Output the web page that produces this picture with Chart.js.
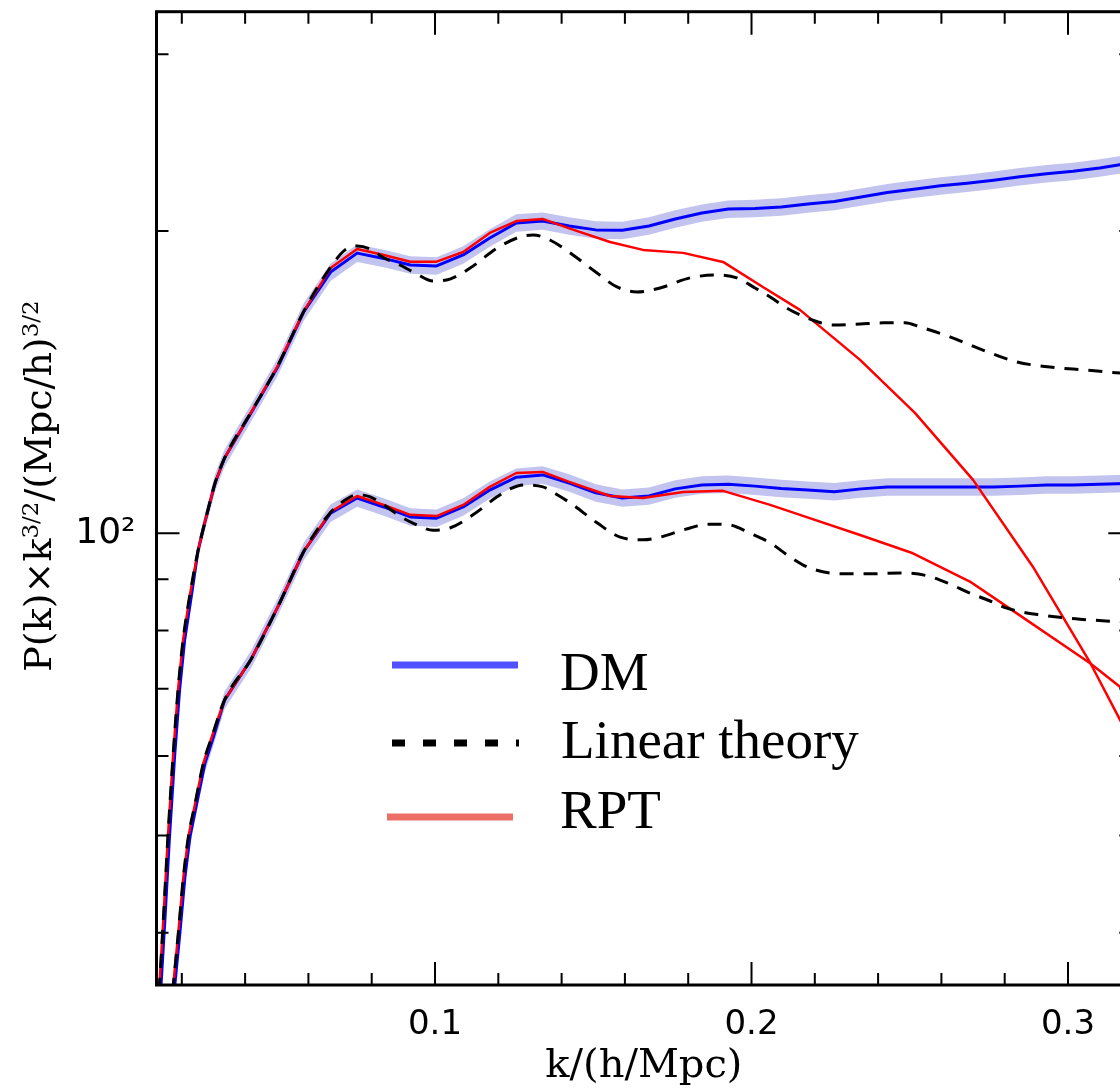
<!DOCTYPE html>
<html><head><meta charset="utf-8">
<script src="https://cdn.jsdelivr.net/npm/chart.js@4"></script>
<style>
html,body{margin:0;padding:0;overflow:hidden;background:#fff;width:1120px;height:1091px}
canvas{display:block}
</style></head>
<body><canvas id="c" width="1140" height="1091"></canvas>
<script>
// ---- data (k in h/Mpc, P(k)*k^1.5) ----
const seriesNames = ['DM', 'Linear theory', 'RPT'];

const kDMHigh = [0.0124,0.0146,0.0161,0.0177,0.0193,0.0209,0.0231,0.0251,0.0273,0.0305,0.0335,
  0.0419,0.0503,0.0586,0.0670,0.0754,0.0838,0.0922,0.1005,0.1089,0.1173,0.1257,0.1340,0.1424,0.1508,0.1592,0.1676,0.1759,0.1843,0.1927,0.2011,0.2094,0.2178,0.2262,0.2346,0.2429,0.2513,0.2597,0.2681,0.2765,0.2848,0.2932,0.3016,0.3100,0.3183];
const pDMHigh = [31.3,40.9,49.8,59.8,69.8,78.3,87.0,96.0,102.6,112.2,118.8,
  131.8,146.4,166.3,182.0,190.1,187.8,185.0,184.6,189.3,196.8,203.7,204.6,202.3,200.5,200.3,202.3,205.6,208.4,210.3,210.6,211.3,212.8,214.0,216.2,218.4,220.1,221.8,223.1,224.7,226.5,228.1,229.3,231.1,233.3];

const kDMLow = [0.0161,0.0194,0.0210,0.0226,0.0247,0.0273,0.0300,0.0335,
  0.0419,0.0503,0.0586,0.0670,0.0754,0.0838,0.0922,0.1005,0.1089,0.1173,0.1257,0.1340,0.1424,0.1508,0.1592,0.1676,0.1759,0.1843,0.1927,0.2011,0.2094,0.2178,0.2262,0.2346,0.2429,0.2513,0.2597,0.2681,0.2765,0.2848,0.2932,0.3016,0.3100,0.3183];
const pDMLow = [31.3,40.0,45.5,49.9,53.8,59.0,62.7,68.2,
  74.9,84.4,96.0,104.7,108.4,106.2,103.8,103.5,106.2,110.4,113.7,114.3,112.2,109.7,108.4,108.9,110.7,111.7,111.9,111.4,110.8,110.4,110.0,110.7,111.2,111.2,111.2,111.2,111.2,111.4,111.7,111.7,111.9,112.1];
// relative 1-sigma error of the DM measurement (band half-height)
const dmRelError = 0.02;

const kLinHigh = [0.0119,0.0141,0.0156,0.0172,0.0188,0.0204,0.0226,0.0251,0.0273,0.0305,0.0335,0.0419,0.0503,0.0586,0.0668,0.0716,0.0754,0.0795,0.0839,0.0889,0.0937,0.0994,0.1047,0.1111,0.1196,0.1269,0.1310,0.1363,0.1436,0.1512,0.1575,0.1638,0.1711,0.1806,0.1891,0.1954,0.2011,0.2059,0.2106,0.2153,0.2201,0.2258,0.2343,0.2416,0.2485,0.2532,0.2627,0.2731,0.2839,0.2943,0.3054,0.3164,0.3212];
const pLinHigh = [31.3,40.9,49.8,59.8,69.8,78.3,87.0,96.0,102.6,112.2,118.8,132.0,146.8,166.5,183.7,191.5,193.2,191.9,188.0,185.0,181.6,178.3,179.1,183.7,192.3,197.3,198.2,195.9,189.3,181.6,175.9,173.9,175.5,179.6,180.8,179.6,175.5,171.9,168.0,165.0,162.7,161.2,161.6,162.0,162.0,160.5,156.9,152.2,148.1,146.4,145.4,144.4,144.1];

const kLinLow = [0.0156,0.0189,0.0205,0.0221,0.0242,0.0268,0.0295,0.0335,0.0419,0.0503,0.0586,0.0668,0.0716,0.0754,0.0795,0.0839,0.0889,0.0937,0.0994,0.1047,0.1120,0.1196,0.1237,0.1278,0.1341,0.1382,0.1427,0.1512,0.1585,0.1657,0.1711,0.1765,0.1806,0.1859,0.1932,0.1995,0.2059,0.2122,0.2185,0.2289,0.2374,0.2469,0.2555,0.2627,0.2681,0.2754,0.2807,0.2912,0.3038,0.3164,0.3212];
const pLinLow = [31.3,40.0,45.5,49.9,53.8,59.0,62.7,68.2,74.9,84.4,96.0,104.7,107.9,109.2,108.7,106.7,104.0,102.1,100.7,101.2,104.3,108.7,110.7,111.7,111.2,109.4,107.2,102.4,99.1,98.5,99.1,100.3,101.2,102.1,101.9,100.0,97.8,94.7,92.3,91.1,91.1,91.3,90.7,89.0,87.4,85.6,84.2,82.9,82.1,81.6,81.4];

const kRPTHigh = [0.0119,0.0141,0.0156,0.0172,0.0188,0.0204,0.0226,0.0251,0.0273,0.0305,0.0335,0.0419,0.0503,0.0586,0.0670,0.0754,0.0838,0.0922,0.1005,0.1089,0.1173,0.1257,0.1340,0.1424,0.1553,0.1657,0.1784,0.1910,0.2036,0.2153,0.2343,0.2517,0.2700,0.2889,0.3070,0.3164,0.3196];
const pRPTHigh = [31.3,40.9,49.8,59.8,69.8,78.3,87.0,96.0,102.6,112.2,118.8,132.0,146.8,166.5,183.7,191.9,189.3,186.4,186.4,190.6,199.1,204.6,205.6,201.2,195.0,191.5,190.2,186.3,175.9,166.9,148.8,131.7,113.0,92.6,74.3,65.2,62.4];

const kRPTLow = [0.0156,0.0189,0.0205,0.0221,0.0242,0.0268,0.0295,0.0335,0.0419,0.0503,0.0586,0.0670,0.0754,0.0838,0.0922,0.1005,0.1089,0.1173,0.1257,0.1340,0.1424,0.1553,0.1657,0.1784,0.1910,0.2059,0.2153,0.2343,0.2510,0.2690,0.2807,0.3070,0.3164,0.3196];
const pRPTLow = [31.3,40.0,45.5,49.9,53.8,59.0,62.7,68.2,74.9,84.4,96.0,105.0,108.9,106.7,104.3,104.0,106.7,111.2,114.8,115.1,112.5,108.9,108.4,109.9,110.2,106.7,104.3,99.6,95.5,89.5,84.5,74.2,70.3,69.0];

// ---- axes ----
const xRange = [0.012, 0.32];
const yRange = [35.48, 330.7];
const xMajorTicks = [0.1, 0.2, 0.3];
const xMajorLabels = ['0.1', '0.2', '0.3'];
const xMinorTicks = [0.02,0.04,0.06,0.08,0.12,0.14,0.16,0.18,0.22,0.24,0.26,0.28,0.32];
const yMajorTicks = [100];
const yMajorLabels = ['10\u00B2'];
const yMinorTicks = [40,50,60,70,80,90,200,300];
const xTitle = 'k/(h/Mpc)';
const yTitleParts = [['P(k)\u00D7k', false], ['3/2', true], ['/(Mpc/h)', false], ['3/2', true]];

// ---- styles ----
const bandColor = '#c3c3ef';
const dmColor = '#0000ff';
const rptColor = '#ff0000';
const linColor = '#000000';
const legendDM = '#5050ff';
const legendRPT = '#ec6f66';

const pts = (ks, ps, f) => ks.map((k, i) => ({x: k, y: ps[i] * (f || 1)}));
const base = {pointRadius: 0, fill: false, clip: 0, tension: 0, borderCapStyle: 'butt', borderJoinStyle: 'round'};
const bandHi = 1 + dmRelError, bandLo = 1 - dmRelError;

const datasets = [
  {...base, label: 'DM band hi+', data: pts(kDMHigh, pDMHigh, bandHi), borderWidth: 0, backgroundColor: bandColor, fill: '+1', order: 5},
  {...base, label: 'DM band hi-', data: pts(kDMHigh, pDMHigh, bandLo), borderWidth: 0, order: 5},
  {...base, label: 'DM band lo+', data: pts(kDMLow, pDMLow, bandHi), borderWidth: 0, backgroundColor: bandColor, fill: '+1', order: 5},
  {...base, label: 'DM band lo-', data: pts(kDMLow, pDMLow, bandLo), borderWidth: 0, order: 5},
  {...base, label: seriesNames[0], data: pts(kDMHigh, pDMHigh), borderColor: dmColor, borderWidth: 3, order: 3},
  {...base, label: seriesNames[0] + ' low', data: pts(kDMLow, pDMLow), borderColor: dmColor, borderWidth: 3, order: 3},
  {...base, label: seriesNames[2], data: pts(kRPTHigh, pRPTHigh), borderColor: rptColor, borderWidth: 2.5, order: 2},
  {...base, label: seriesNames[2] + ' low', data: pts(kRPTLow, pRPTLow), borderColor: rptColor, borderWidth: 2.5, order: 2},
  {...base, label: seriesNames[1], data: pts(kLinHigh, pLinHigh), borderColor: linColor, borderWidth: 3, borderDash: [14, 10], cubicInterpolationMode: 'monotone', order: 1},
  {...base, label: seriesNames[1] + ' low', data: pts(kLinLow, pLinLow), borderColor: linColor, borderWidth: 3, borderDash: [14, 10], cubicInterpolationMode: 'monotone', order: 1}
];

const framePlugin = {
  id: 'frame',
  afterDatasetsDraw(chart) {
    const {ctx, chartArea: a, scales: {x, y}} = chart;
    ctx.save();
    ctx.strokeStyle = '#000';
    ctx.lineWidth = 2;
    ctx.beginPath();
    const xt = (v, len) => { const p = x.getPixelForValue(v); ctx.moveTo(p, a.bottom); ctx.lineTo(p, a.bottom - len); ctx.moveTo(p, a.top); ctx.lineTo(p, a.top + len); };
    const yt = (v, len) => { const p = y.getPixelForValue(v); ctx.moveTo(a.left, p); ctx.lineTo(a.left + len, p); ctx.moveTo(a.right, p); ctx.lineTo(a.right - len, p); };
    xMajorTicks.forEach(v => xt(v, 23));
    xMinorTicks.forEach(v => xt(v, 12));
    yMajorTicks.forEach(v => yt(v, 23));
    yMinorTicks.forEach(v => yt(v, 12));
    ctx.stroke();
    ctx.lineWidth = 3;
    ctx.strokeRect(a.left, a.top, a.right - a.left, a.bottom - a.top);
    ctx.restore();
  },
  afterDraw(chart) {
    const {ctx, chartArea: a} = chart;
    ctx.save();
    // legend
    ctx.lineCap = 'butt';
    ctx.lineWidth = 7;
    ctx.strokeStyle = legendDM;
    ctx.beginPath(); ctx.moveTo(392, 665); ctx.lineTo(518, 665); ctx.stroke();
    ctx.strokeStyle = '#000';
    ctx.setLineDash([13, 18]);
    ctx.beginPath(); ctx.moveTo(392, 743); ctx.lineTo(519, 743); ctx.stroke();
    ctx.setLineDash([]);
    ctx.strokeStyle = legendRPT;
    ctx.beginPath(); ctx.moveTo(387, 817); ctx.lineTo(513, 817); ctx.stroke();
    ctx.fillStyle = '#000';
    ctx.font = '55px "Liberation Serif"';
    ctx.textAlign = 'left';
    ctx.textBaseline = 'alphabetic';
    ctx.fillText(seriesNames[0], 560, 690);
    ctx.fillText(seriesNames[1], 561, 758);
    ctx.fillText(seriesNames[2], 560, 828);
    // x title
    ctx.font = '40px "DejaVu Serif"';
    ctx.textAlign = 'center';
    ctx.textBaseline = 'middle';
    ctx.fillText(xTitle, (a.left + a.right) / 2, 1067);
    // y title (rotated, with superscripts)
    const mainF = '38px "DejaVu Serif"', supF = '23px "DejaVu Serif"';
    let total = 0;
    const widths = yTitleParts.map(([t, sup]) => { ctx.font = sup ? supF : mainF; const w = ctx.measureText(t).width; total += w; return w; });
    ctx.translate(41, 486);
    ctx.rotate(-Math.PI / 2);
    ctx.textAlign = 'left';
    ctx.textBaseline = 'middle';
    let cx = -total / 2;
    yTitleParts.forEach(([t, sup], i) => {
      ctx.font = sup ? supF : mainF;
      ctx.fillText(t, cx, sup ? -9 : 0);
      cx += widths[i];
    });
    ctx.restore();
  }
};

const noPad = s => { s.paddingTop = 0; s.paddingBottom = 0; s.paddingLeft = 0; s.paddingRight = 0; };

new Chart(document.getElementById('c'), {
  type: 'line',
  data: {datasets},
  plugins: [framePlugin],
  options: {
    responsive: false,
    animation: false,
    devicePixelRatio: 1,
    layout: {padding: {top: 11.7, right: 8.7, left: 0, bottom: 0}},
    plugins: {legend: {display: false}, tooltip: {enabled: false}, filler: {propagate: false}},
    events: [],
    scales: {
      x: {
        type: 'linear', min: xRange[0], max: xRange[1],
        grid: {display: false}, border: {display: false},
        afterBuildTicks: s => { s.ticks = xMajorTicks.map(v => ({value: v})); },
        afterFit: s => { s.height = 106; noPad(s); },
        ticks: {
          autoSkip: false, maxRotation: 0, padding: 12, color: '#000',
          font: {family: 'DejaVu Sans', size: 34},
          callback: v => { const i = xMajorTicks.findIndex(t => Math.abs(t - v) < 1e-9); return i >= 0 ? xMajorLabels[i] : ''; }
        }
      },
      y: {
        type: 'logarithmic', min: yRange[0], max: yRange[1],
        grid: {display: false}, border: {display: false},
        afterBuildTicks: s => { s.ticks = yMajorTicks.map(v => ({value: v})); },
        afterFit: s => { s.width = 156.5; noPad(s); },
        ticks: {
          autoSkip: false, padding: 13, color: '#000',
          font: {family: 'DejaVu Sans', size: 36},
          callback: v => { const i = yMajorTicks.indexOf(v); return i >= 0 ? yMajorLabels[i] : ''; }
        }
      }
    }
  }
});
</script>
</body></html>
